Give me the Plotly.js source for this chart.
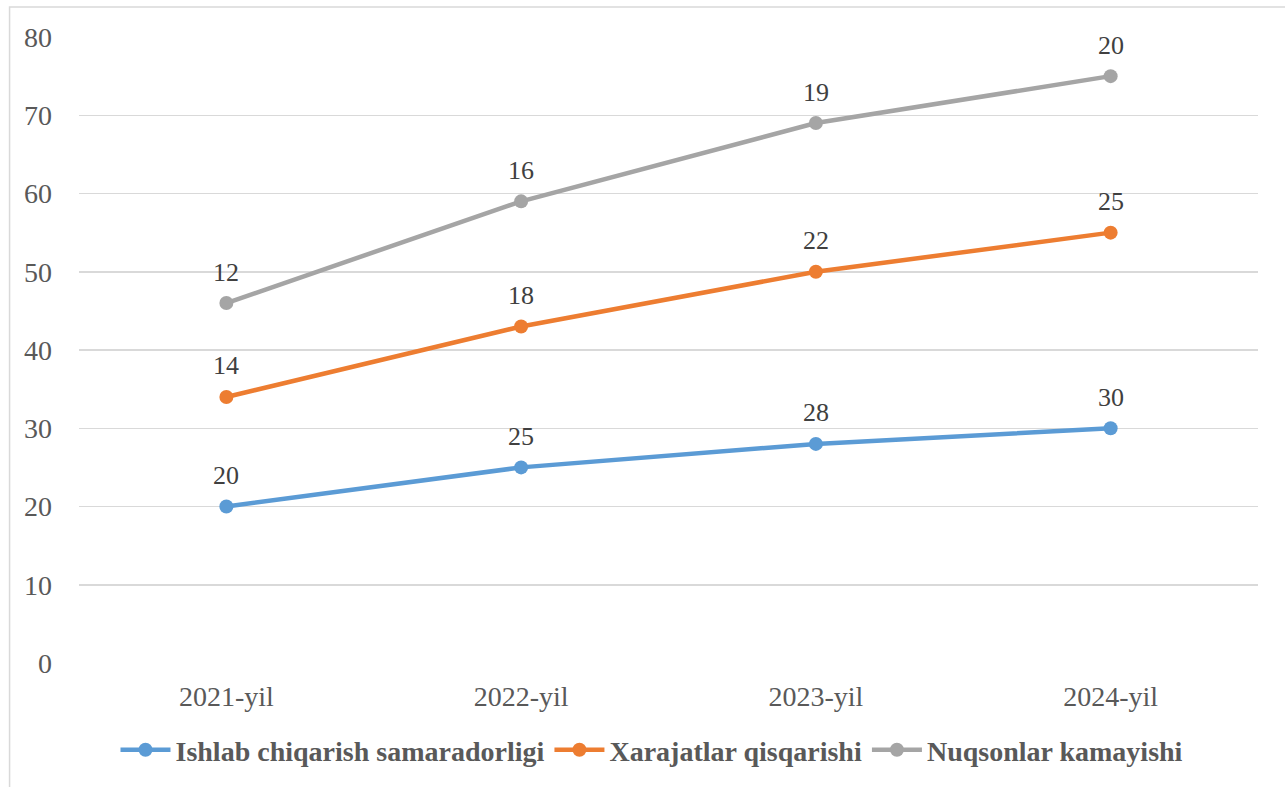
<!DOCTYPE html>
<html>
<head>
<meta charset="utf-8">
<script src="https://cdn.plot.ly/plotly-3.0.1.min.js"></script>
</head>
<body style="margin:0">
<div id="chart" style="width:1285px;height:787px"></div>
<script>
const categories = ["2021-yil", "2022-yil", "2023-yil", "2024-yil"];
const seriesNames = ["Ishlab chiqarish samaradorligi", "Xarajatlar qisqarishi", "Nuqsonlar kamayishi"];
const ishlab = [20, 25, 28, 30];
const xarajat = [14, 18, 22, 25];
const nuqson = [12, 16, 19, 20];
const yTicks = [0, 10, 20, 30, 40, 50, 60, 70, 80];
const colors = ["#5B9BD5", "#ED7D31", "#A5A5A5"];

const seriesVals = [ishlab, xarajat, nuqson];
const cumulative = [];
let running = categories.map(() => 0);
seriesVals.forEach(vals => {
  running = running.map((r, i) => r + vals[i]);
  cumulative.push(running.slice());
});

const traces = seriesVals.map((vals, k) => ({
  type: "scatter",
  mode: "lines+markers",
  name: seriesNames[k],
  x: categories,
  y: cumulative[k],
  line: {color: colors[k], width: 4.5},
  marker: {color: colors[k], size: 14},
  hoverinfo: "skip"
}));

const annotations = [];
seriesVals.forEach((vals, k) => {
  vals.forEach((v, i) => {
    annotations.push({
      x: categories[i], y: cumulative[k][i], xref: "x", yref: "y",
      text: String(v), showarrow: false, yshift: 31,
      font: {family: "Liberation Serif", size: 26, color: "#404040"}
    });
  });
});

const layout = {
  width: 1285, height: 787,
  margin: {l: 78.5, r: 26.5, t: 37, b: 124},
  paper_bgcolor: "#ffffff", plot_bgcolor: "#ffffff",
  font: {family: "Liberation Serif", size: 28, color: "#595959"},
  showlegend: true,
  legend: {
    orientation: "h", x: 0.486, xanchor: "center", y: -0.139, yanchor: "middle",
    font: {family: "Liberation Serif", size: 28, color: "#595959", weight: "bold"},
    itemwidth: 50, traceorder: "normal"
  },
  xaxis: {
    type: "category", range: [-0.5, 3.5], showgrid: false, zeroline: false,
    showline: false, ticks: "", ticklabelstandoff: 14
  },
  yaxis: {
    range: [0, 80], tickvals: yTicks, ticktext: yTicks.map(String),
    showgrid: true, gridcolor: "#D9D9D9", gridwidth: 1.5,
    zeroline: false, showline: false, ticks: "", ticklabelstandoff: 26
  },
  annotations: annotations,
  shapes: [{
    type: "rect", xref: "paper", yref: "paper",
    x0: -0.0589, x1: 1.03, y0: -0.21, y1: 1.048,
    line: {color: "#D9D9D9", width: 1.5}, fillcolor: "rgba(0,0,0,0)", layer: "below"
  }]
};

Plotly.newPlot("chart", traces, layout, {displayModeBar: false, staticPlot: true});
</script>
</body>
</html>
